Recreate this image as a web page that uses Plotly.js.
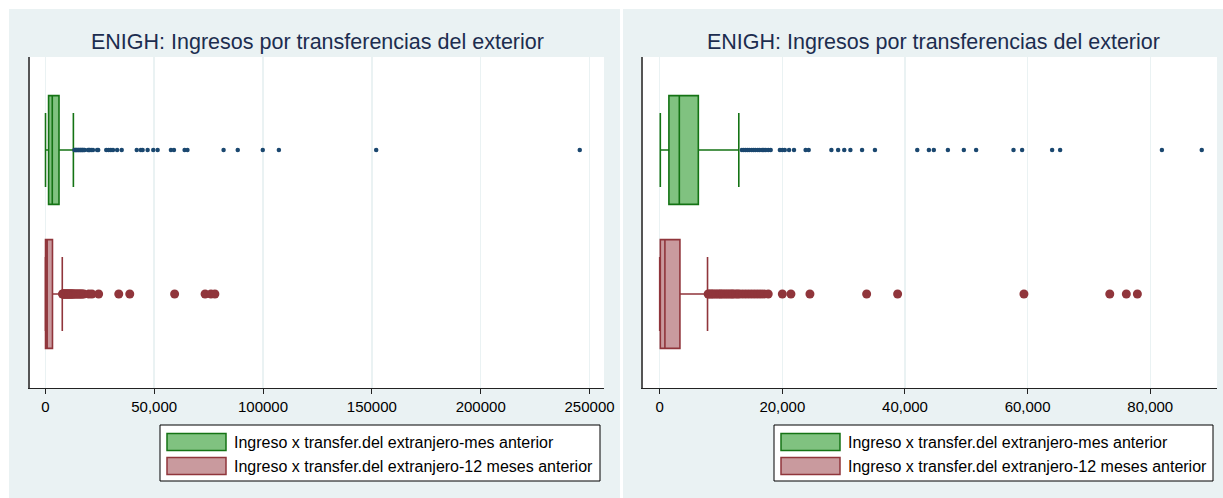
<!DOCTYPE html>
<html>
<head>
<meta charset="utf-8">
<script src="https://cdn.plot.ly/plotly-3.0.1.min.js"></script>
<style>html,body{margin:0;padding:0;background:#fff;} #chart{width:1223px;height:498px;}</style>
</head>
<body>
<div id="chart"></div>
<script>
// ---------------- data ----------------
var chartTitle = "ENIGH: Ingresos por transferencias del exterior";
var seriesNames = ["Ingreso x transfer.del extranjero-mes anterior",
                   "Ingreso x transfer.del extranjero-12 meses anterior"];
var seriesPos = [1, 0];   // category position on the hidden y axis

// box statistics
var lowerFence = [100, 0];
var q1Vals     = [1500, 100];
var medianVals = [3200, 850];
var q3Vals     = [6300, 3300];
var upperFence = [12900, 7800];

// outside values
var outliersMes = [13400, 13700, 14000, 14300, 14600, 15000, 15300, 15600, 16000, 16300,
                   16700, 17000, 17300, 17700, 18100, 19600, 20000, 20400, 21100, 21900,
                   23800, 24300, 28000, 29100, 30100, 31100, 33000, 35100, 42000, 43900,
                   44700, 47000, 49600, 51600, 57700, 59100, 64000, 65300, 81900, 88400,
                   99900, 107300, 152000, 245500];
var outliers12m = [7900, 8100, 8400, 8600, 8900, 9200, 9500, 9800, 10000, 10300, 10600,
                   10900, 11200, 11500, 11800, 12000, 12400, 12700, 13000, 13500, 14000,
                   14500, 15000, 15500, 16000, 16500, 17000, 17700, 20000, 21400, 24500,
                   33750, 38800, 59400, 73400, 76100, 77900];

// tick labels
var leftTickVals  = [0, 50000, 100000, 150000, 200000, 250000];
var leftTickText  = ["0", "50,000", "100000", "150000", "200000", "250000"];
var rightTickVals = [0, 20000, 40000, 60000, 80000];
var rightTickText = ["0", "20,000", "40,000", "60,000", "80,000"];

// ---------------- styles ----------------
var W = 1223, H = 498;
var FONT = "Liberation Sans, Arial, sans-serif";
var panelBg = "rgb(234,242,243)";
var lineCols = ["rgb(20,115,20)", "rgb(144,53,59)"];
var fillCols = ["rgb(128,194,128)", "rgb(201,154,158)"];
var outCols  = ["rgb(26,71,111)", "rgb(144,53,59)"];
var outSizes = [4.5, 9];
var outliers = [outliersMes, outliers12m];

function px(x) { return x / W; }
function py(y) { return (H - y) / H; }

var traces = [];
var axSuffix = ["", "2"];
for (var p = 0; p < 2; p++) {
  var xa = "x" + axSuffix[p], ya = "y" + axSuffix[p];
  for (var s = 0; s < 2; s++) {
    traces.push({
      type: "box", orientation: "h", name: seriesNames[s],
      y: [seriesPos[s]],
      q1: [q1Vals[s]], median: [medianVals[s]], q3: [q3Vals[s]],
      lowerfence: [lowerFence[s]], upperfence: [upperFence[s]],
      boxpoints: false, width: 0.755, whiskerwidth: 0.68,
      fillcolor: fillCols[s], line: {color: lineCols[s], width: 1.6},
      xaxis: xa, yaxis: ya, hoverinfo: "skip", showlegend: false
    });
    traces.push({
      type: "scatter", mode: "markers", name: seriesNames[s],
      x: outliers[s], y: outliers[s].map(function () { return seriesPos[s]; }),
      marker: {color: outCols[s], size: outSizes[s], line: {width: 0}},
      xaxis: xa, yaxis: ya, hoverinfo: "skip", showlegend: false
    });
  }
}

function xAxis(domain, range, vals, text, anchor) {
  return {
    domain: domain, range: range, anchor: anchor,
    tickmode: "array", tickvals: vals, ticktext: text,
    showgrid: true, gridcolor: panelBg, gridwidth: 1.5, zeroline: false,
    showline: true, linecolor: "#222", linewidth: 1,
    ticks: "outside", ticklen: 5, tickcolor: "#222", tickwidth: 1,
    tickfont: {family: FONT, size: 15, color: "#000"}, fixedrange: true
  };
}
function yAxis(domain, anchor) {
  return {
    domain: domain, range: [-0.653, 1.646], anchor: anchor,
    showticklabels: false, showgrid: false, zeroline: false, ticks: "",
    showline: true, linecolor: "#555", linewidth: 2, fixedrange: true
  };
}

var yDom = [py(388), py(57)];
var panels = [
  {x0: 9, x1: 620, plotL: 30, plotR: 604, titleX: 318, legL: 160, legR: 600},
  {x0: 623, x1: 1223, plotL: 643, plotR: 1217, titleX: 933, legL: 774, legR: 1213}
];

var shapes = [], annotations = [];
panels.forEach(function (pn, i) {
  shapes.push({type: "rect", xref: "paper", yref: "paper", layer: "below",
    x0: px(pn.x0), x1: px(pn.x1), y0: 0, y1: py(9),
    fillcolor: panelBg, line: {width: 0}});
  shapes.push({type: "rect", xref: "paper", yref: "paper", layer: "below",
    x0: px(pn.plotL), x1: px(pn.plotR), y0: py(388), y1: py(57),
    fillcolor: "#fff", line: {width: 0}});
  // title
  annotations.push({xref: "paper", yref: "paper", x: px(pn.titleX), y: py(42),
    xanchor: "center", yanchor: "middle", showarrow: false, text: chartTitle,
    font: {family: FONT, size: 21.5, color: "rgb(28,45,79)"}});
  // legend box
  shapes.push({type: "rect", xref: "paper", yref: "paper", layer: "above",
    x0: px(pn.legL), x1: px(pn.legR), y0: py(481), y1: py(425),
    fillcolor: "#fff", line: {color: "#000", width: 1}});
  for (var s = 0; s < 2; s++) {
    var cy = 442 + s * 24;
    shapes.push({type: "rect", xref: "paper", yref: "paper", layer: "above",
      x0: px(pn.legL + 7), x1: px(pn.legL + 66), y0: py(cy + 8.5), y1: py(cy - 8.5),
      fillcolor: fillCols[s], line: {color: lineCols[s], width: 1.5}});
    annotations.push({xref: "paper", yref: "paper", x: px(pn.legL + 72), y: py(cy),
      xanchor: "left", yanchor: "middle", showarrow: false, text: seriesNames[s],
      font: {family: FONT, size: 16, color: "#000"}});
  }
});

var layout = {
  width: W, height: H, margin: {l: 0, r: 0, t: 0, b: 0, pad: 0},
  paper_bgcolor: "#fff", plot_bgcolor: "#fff", showlegend: false,
  xaxis: xAxis([px(30), px(604)], [-7028, 256640], leftTickVals, leftTickText, "y"),
  yaxis: yAxis(yDom, "x"),
  xaxis2: xAxis([px(643), px(1217)], [-2723, 90885], rightTickVals, rightTickText, "y2"),
  yaxis2: yAxis(yDom, "x2"),
  shapes: shapes, annotations: annotations
};

Plotly.newPlot("chart", traces, layout, {displayModeBar: false, staticPlot: true});
</script>
</body>
</html>
